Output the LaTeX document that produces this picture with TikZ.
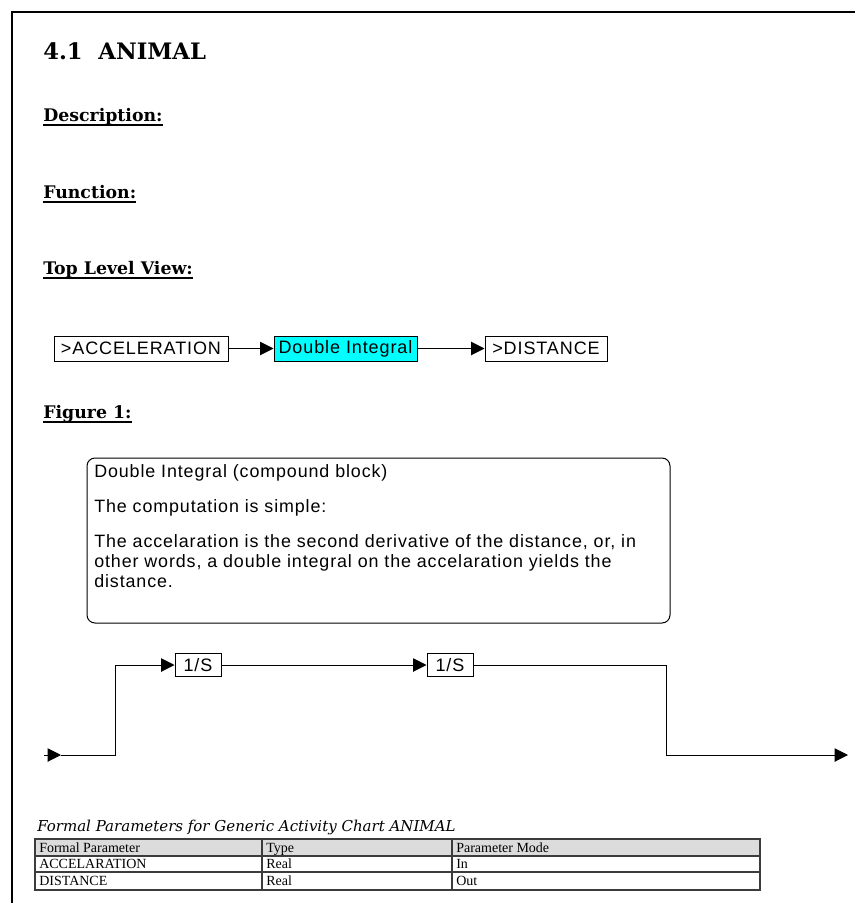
\documentclass[tikz,border=0pt]{standalone}
\usepackage{fontspec}
\usepackage{tikz}
\usetikzlibrary{arrows.meta}
\setmainfont{DejaVu Serif}
\newfontfamily\uifont[LetterSpace=5]{Liberation Sans}
\newfontfamily\tabfont{Liberation Serif}
\definecolor{blockcyan}{RGB}{0,255,255}
\definecolor{hdrgray}{RGB}{220,220,220}
\definecolor{tabline}{RGB}{60,60,60}
\tikzset{
  chartbox/.style={draw, line width=0.75pt, inner sep=0pt, font=\uifont\fontsize{13.5}{16}\selectfont},
  flow/.style={line width=0.75pt, -{Triangle[length=10pt,width=10pt]}},
  headline/.style={anchor=base west, inner sep=0pt, font=\bfseries\fontsize{13}{15}\selectfont},
  ul/.style={line width=1.5pt},
  cell/.style={anchor=base west, inner sep=0pt, font=\tabfont\fontsize{10.5}{12}\selectfont},
}

\begin{document}
\begin{tikzpicture}[x=0.75pt,y=0.75pt,yscale=-1,xscale=1]
\useasboundingbox (0,0) rectangle (855,903);
% page frame
\draw[line width=1.9pt] (11,12) -- (855,12);
\draw[line width=1.9pt] (12,12) -- (12,903);

% headings
\node[headline, font=\bfseries\fontsize{17}{20}\selectfont] (title) at (43,59) {4.1\ \ ANIMAL};
\node[headline] (desc) at (43,121) {Description:};
\draw[ul] (desc.base west |- 0,124.5) -- (desc.base east |- 0,124.5);
\node[headline] (func) at (43,198) {Function:};
\draw[ul] (func.base west |- 0,201.5) -- (func.base east |- 0,201.5);
\node[headline] (toplevel) at (43,274) {Top Level View:};
\draw[ul] (toplevel.base west |- 0,277.5) -- (toplevel.base east |- 0,277.5);

% top level view
\node[chartbox, minimum width=130.5pt, minimum height=18.75pt] (acc) at (141,348.5) {>ACCELERATION};
\node[chartbox, fill=blockcyan, minimum width=107.25pt, minimum height=18.75pt] (dint) at (345.5,348.5) {Double Integral};
\node[chartbox, minimum width=91.5pt, minimum height=18.75pt] (dist) at (546,348.5) {>DISTANCE};
\draw[flow] (acc) -- (dint);
\draw[flow] (dint) -- (dist);

\node[headline] (fig) at (43,418) {Figure 1:};
\draw[ul] (fig.base west |- 0,421.5) -- (fig.base east |- 0,421.5);

% note
\node[draw, rounded corners=6pt, line width=0.75pt, minimum width=437.25pt, minimum height=123.75pt, inner sep=0pt] (note) at (378.5,540.5) {};
\node[anchor=north west, inner sep=0pt, align=left, font=\uifont\fontsize{13.4}{15}\selectfont] (notetext) at (94,464) {Double Integral (compound block)\\[11.25pt]
The computation is simple:\\[11.25pt]
The accelaration is the second derivative of the distance, or, in\\
other words, a double integral on the accelaration yields the\\
distance.};

% compound block
\node[chartbox, minimum width=34.5pt, minimum height=17.25pt] (intA) at (198,665) {1/S};
\node[chartbox, minimum width=34.5pt, minimum height=17.25pt] (intB) at (450,665) {1/S};
\coordinate (inlead) at (44,755);
\coordinate (inport) at (61,755);
\coordinate (fork) at (115,755);
\coordinate (bend) at (666,755);
\coordinate (outport) at (848,755);
\draw[flow] (inlead) -- (inport);
\draw[flow] (inport) -- (fork) |- (intA);
\draw[flow] (intA) -- (intB);
\draw[flow] (intB) -| (bend) -- (outport);

% parameter table
\node[anchor=base west, inner sep=0pt, font=\itshape\fontsize{11.25}{13}\selectfont] (caption) at (37,831) {Formal Parameters for Generic Activity Chart ANIMAL};
\fill[hdrgray] (35,839) rectangle (760,856);
\draw[tabline, line width=0.9pt] (35,839) rectangle (760,890);
\draw[tabline, line width=0.9pt] (35,856) -- (760,856);
\draw[tabline, line width=0.9pt] (35,872) -- (760,872);
\draw[tabline, line width=0.9pt] (262,839) -- (262,890);
\draw[tabline, line width=0.9pt] (452,839) -- (452,890);
\node[cell] (hpar) at (39,852) {Formal Parameter};
\node[cell] (htype) at (266,852) {Type};
\node[cell] (hmode) at (456,852) {Parameter Mode};
\node[cell] (accpar) at (39,868) {ACCELARATION};
\node[cell] (acctype) at (266,868) {Real};
\node[cell] (accmode) at (456,868) {In};
\node[cell] (distpar) at (39,885) {DISTANCE};
\node[cell] (disttype) at (266,885) {Real};
\node[cell] (distmode) at (456,885) {Out};
\end{tikzpicture}
\end{document}
